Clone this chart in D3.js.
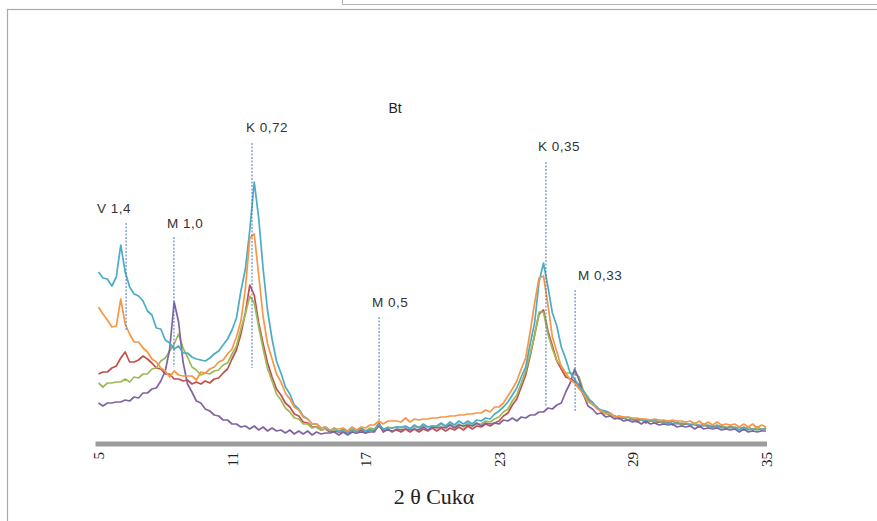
<!DOCTYPE html>
<html>
<head>
<meta charset="utf-8">
<script src="https://cdn.jsdelivr.net/npm/d3@7"></script>
<style>
html,body{margin:0;padding:0;background:#fff;}
svg{display:block;}
</style>
</head>
<body>
<svg id="chart" width="877" height="521"></svg>
<script>
// ---- DATA ----
const thetaStart = 5, thetaEnd = 35, thetaStep = 0.2;
const xTicks = [5, 11, 17, 23, 29, 35];
const xTitle = "2 θ Cukα";
const chartTitle = "Bt";

const seriesNames = ["red", "green", "purple", "cyan", "orange"];

const redValues = [
70,72,72,76,78,86,92,82,82,84,
88,85,81,76,75,70,70,65,65,63,
64,60,62,60,63,61,65,66,71,75,
85,94,110,131,159,149,121,100,81,67,
55,49,41,37,30,28,22,21,17,17,
14,15,12,13,12,12,11,12,11,14,
11,14,13,18,13,14,13,14,12,15,
12,15,12,15,13,16,13,16,13,16,
14,17,14,18,15,18,17,20,18,21,
23,28,31,39,45,57,69,88,109,130,
134,113,98,83,75,67,65,63,59,49,
45,40,37,32,32,28,28,25,26,24,
25,22,25,21,24,21,22,21,22,19,
22,19,20,19,20,17,20,17,18,17,
18,15,18,15,17,14,17,14,17,14,16];

const greenValues = [
61,57,61,61,62,62,65,62,67,66,
70,70,75,76,83,86,93,100,110,96,
87,77,74,69,71,70,73,74,79,81,
90,98,115,130,148,141,117,95,75,63,
50,44,36,32,26,25,20,20,16,17,
14,15,14,14,13,14,13,14,13,16,
13,16,15,20,14,17,16,17,16,17,
16,17,17,18,17,18,17,20,17,20,
17,20,17,21,18,20,20,23,22,25,
27,32,35,43,49,61,73,90,109,132,
132,110,95,83,78,71,71,71,67,53,
47,39,37,32,31,28,28,25,27,24,
25,24,24,23,23,22,23,20,23,20,
21,20,21,18,21,18,19,18,19,16,
19,16,17,16,17,14,17,14,17,14,16];

const purpleValues = [
41,38,41,41,42,42,44,43,47,46,
51,51,55,56,63,73,95,142,122,82,
60,52,43,41,35,33,29,28,24,24,
20,20,17,18,15,18,14,17,13,16,
13,14,11,14,10,13,10,13,9,12,
10,11,11,12,9,12,9,12,11,12,
11,12,12,21,12,15,12,15,14,15,
14,15,14,17,14,17,16,17,16,19,
16,19,18,19,18,21,18,21,20,21,
20,24,23,26,23,27,26,29,29,32,
32,36,35,39,41,52,61,75,64,49,
38,35,30,31,27,28,25,26,23,24,
22,23,20,23,20,21,19,20,19,20,
17,18,17,18,15,18,15,16,15,16,
14,15,14,15,12,15,12,13,12,13,13];

const cyanValues = [
172,166,165,158,167,199,172,157,150,148,
143,133,129,116,115,104,101,95,98,91,
91,87,85,84,83,86,90,93,99,105,
114,126,153,175,214,262,226,175,133,105,
83,71,57,50,39,35,28,25,20,20,
16,17,13,16,12,15,11,15,12,16,
13,14,14,20,15,16,16,17,17,18,
15,19,16,20,17,18,18,21,18,22,
19,23,20,23,20,24,23,26,25,30,
33,37,42,49,56,67,77,100,121,162,
181,157,131,118,97,85,71,65,57,53,
45,42,36,34,33,31,27,28,26,27,
24,25,24,24,23,24,22,23,20,23,
20,21,20,20,19,19,18,19,16,19,
16,17,16,17,14,17,14,15,14,15,15];

const orangeValues = [
137,130,124,117,118,145,120,110,102,102,
96,92,85,82,76,73,67,73,69,68,
68,68,64,72,71,75,77,82,84,90,
95,107,123,155,206,210,169,127,100,85,
70,62,51,45,37,34,27,25,20,20,
16,17,14,15,15,16,13,17,14,17,
16,19,19,23,20,23,23,23,22,26,
22,25,24,25,25,26,26,27,27,28,
28,29,29,30,30,31,31,34,32,37,
37,41,48,55,63,75,86,112,141,166,
168,139,107,92,77,71,64,61,55,50,
42,40,35,33,30,31,27,28,27,27,
26,26,25,25,24,25,24,24,23,24,
23,23,22,23,20,23,19,22,19,22,
19,20,19,20,17,20,17,20,16,19,17];

// reference lines (2θ position, intensity span) and their labels
const refLabels = ["V 1,4", "M 1,0", "K 0,72", "M 0,5", "K 0,35", "M 0,33"];
const refTheta  = [6.24, 8.39, 11.9, 17.61, 25.11, 26.42];
const refTop    = [221, 207, 301, 127, 282, 154];
const refBottom = [114, 77, 76, 24, 37, 32];

// ---- LAYOUT / STYLE ----
const colors = {red:"#C0504D", green:"#9BBB59", purple:"#8064A2", cyan:"#4BACC6", orange:"#F79646"};
const labelDx = [-29, -7, -6, -7, -8, 3];
const labelBaseline = [213, 228, 132, 307, 151, 280];

const svg = d3.select("#chart");

// frames
svg.append("rect").attr("x", 342.5).attr("y", -10).attr("width", 600).attr("height", 14.5)
  .attr("fill", "none").attr("stroke", "#b4b4b4").attr("stroke-width", 1);
svg.append("rect").attr("x", 7.5).attr("y", 9.5).attr("width", 900).attr("height", 600)
  .attr("fill", "none").attr("stroke", "#aaaaaa").attr("stroke-width", 1.2);

const x = d3.scaleLinear().domain([thetaStart, thetaEnd]).range([98.5, 766]);
const y = d3.scaleLinear().domain([0, 300]).range([444, 144]);

const thetas = redValues.map((_, i) => +(thetaStart + i * thetaStep).toFixed(2));
const valuesBy = {red: redValues, green: greenValues, purple: purpleValues, cyan: cyanValues, orange: orangeValues};

const line = d3.line().x(d => x(d[0])).y(d => y(d[1]));

// axis
const xAxis = svg.append("g").attr("transform", "translate(0,444)")
  .call(d3.axisBottom(x).tickValues(xTicks).tickSize(0).tickSizeOuter(0).tickFormat(d3.format("d")));
xAxis.select(".domain").attr("stroke", "#9c9c9c").attr("stroke-width", 5)
  .attr("d", `M${x(thetaStart) - 3},0H${x(thetaEnd) + 1}`);
xAxis.selectAll(".tick text")
  .attr("transform", "rotate(-90)")
  .attr("x", -8).attr("y", 0).attr("dy", "0.35em")
  .style("text-anchor", "end")
  .style("font-family", "'Liberation Serif', 'Times New Roman', serif")
  .style("font-size", "15px")
  .attr("fill", "#222");

// series
seriesNames.forEach(name => {
  const pts = valuesBy[name].map((v, i) => [thetas[i], v]);
  svg.append("path").datum(pts)
    .attr("d", line)
    .attr("fill", "none")
    .attr("stroke", colors[name])
    .attr("stroke-width", 1.7)
    .attr("stroke-linejoin", "round");
});

// reference lines
refLabels.forEach((lab, i) => {
  svg.append("line")
    .attr("x1", x(refTheta[i])).attr("x2", x(refTheta[i]))
    .attr("y1", y(refTop[i])).attr("y2", y(refBottom[i]))
    .attr("stroke", "#4a74c4").attr("stroke-width", 1)
    .attr("stroke-dasharray", "2,1.5");
  svg.append("text")
    .attr("x", x(refTheta[i]) + labelDx[i])
    .attr("y", labelBaseline[i])
    .style("font-family", "'Liberation Sans', Arial, sans-serif")
    .style("font-size", "13.5px")
    .style("letter-spacing", "0.5px")
    .attr("fill", "#333")
    .text(lab);
});

// titles
svg.append("text").attr("x", 395).attr("y", 113).attr("text-anchor", "middle")
  .style("font-family", "'Liberation Sans', Arial, sans-serif").style("font-size", "14px")
  .attr("fill", "#222").text(chartTitle);
svg.append("text").attr("x", 434).attr("y", 504).attr("text-anchor", "middle")
  .style("font-family", "'Liberation Serif', 'Times New Roman', serif").style("font-size", "22px")
  .attr("fill", "#222").text(xTitle);
</script>
</body>
</html>
